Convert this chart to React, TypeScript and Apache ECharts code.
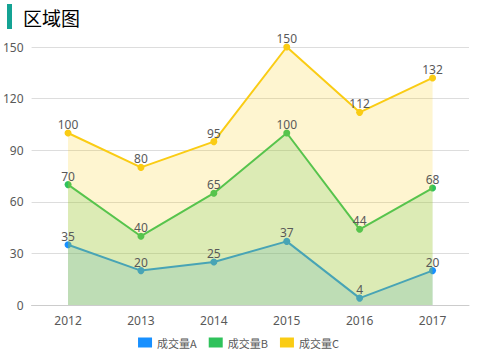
import React, { useEffect, useRef } from "react";
import * as echarts from "echarts";

const categories = ["2012", "2013", "2014", "2015", "2016", "2017"];
const seriesA = [35, 20, 25, 37, 4, 20];
const seriesB = [70, 40, 65, 100, 44, 68];
const seriesC = [100, 80, 95, 150, 112, 132];
const seriesNames = ["成交量A", "成交量B", "成交量C"];
const colors = ["#1890FF", "#2FC25B", "#FACC14"];

export default function App() {
  const ref = useRef<HTMLDivElement>(null);
  useEffect(() => {
    if (!ref.current) return;
    const chart = echarts.init(ref.current, null, { renderer: "svg" });
    const data = [seriesA, seriesB, seriesC];
    const font = "'Noto Sans', 'Noto Sans CJK SC', sans-serif";
    const areaSeries = data.map((d, i) => ({
      name: seriesNames[i],
      type: "line",
      z: 2 + i,
      data: d,
      symbol: "circle",
      symbolSize: 7,
      showAllSymbol: true,
      lineStyle: { width: 2, color: colors[i] },
      itemStyle: { color: colors[i] },
      areaStyle: { color: colors[i], opacity: 0.2 },
      label: { show: false },
    }));
    const labelSeries = data.map((d, i) => ({
      name: "label-" + i,
      type: "line",
      z: 10,
      data: d,
      symbol: "circle",
      symbolSize: 7,
      showAllSymbol: true,
      silent: true,
      lineStyle: { width: 0, opacity: 0 },
      itemStyle: { color: "rgba(0,0,0,0)" },
      label: { show: true, position: "top", distance: -1, color: "#595959", fontSize: 12 },
    }));
    chart.setOption({
      animation: false,
      color: colors,
      textStyle: { fontFamily: font },
      title: {
        text: "区域图",
        left: 18,
        top: 3,
        textStyle: { fontSize: 19, fontWeight: "normal", color: "#000", fontFamily: "'Noto Sans CJK SC', sans-serif" },
      },
      graphic: [
        { type: "rect", left: 7, top: 4, shape: { width: 5, height: 25 }, style: { fill: "#14A394" } },
      ],
      legend: {
        top: 332,
        left: "center",
        itemWidth: 14,
        itemHeight: 10,
        itemGap: 12,
        icon: "rect",
        textStyle: { color: "#595959", fontSize: 11, fontFamily: "'Noto Sans CJK SC', sans-serif" },
        data: seriesNames,
      },
      grid: { left: 30, right: 8, top: 47, bottom: 48 },
      xAxis: {
        type: "category",
        data: categories,
        boundaryGap: true,
        axisTick: { show: false },
        axisLine: { lineStyle: { color: "#cccccc" } },
        axisLabel: { color: "#595959", fontSize: 12, margin: 9 },
      },
      yAxis: {
        type: "value",
        min: 0,
        max: 150,
        interval: 30,
        axisLine: { show: false },
        axisTick: { show: false },
        axisLabel: { color: "#595959", fontSize: 12, margin: 8 },
        splitLine: { lineStyle: { color: "#dddddd" } },
      },
      series: [...areaSeries, ...labelSeries],
    });
    return () => chart.dispose();
  }, []);
  return <div ref={ref} style={{ width: 477, height: 353, position: "absolute", left: 0, top: 0 }} />;
}
